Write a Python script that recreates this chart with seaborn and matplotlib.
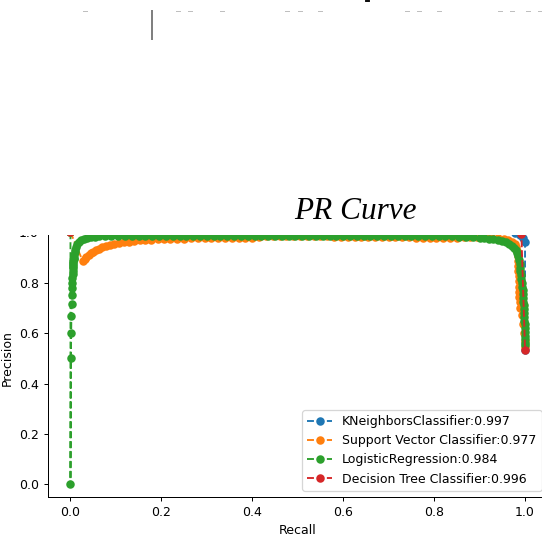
import matplotlib
matplotlib.use("Agg")
import matplotlib.pyplot as plt
from matplotlib.lines import Line2D
from matplotlib.patches import Rectangle
import seaborn as sns

# --------------------------
# Data
# --------------------------
model_names = ["KNeighborsClassifier", "Support Vector Classifier",
               "LogisticRegression", "Decision Tree Classifier"]
ap_scores = [0.997, 0.977, 0.984, 0.996]

knn_recall = [0.0, 0.7, 0.978, 0.988, 0.996, 1.0, 1.0]
knn_precision = [1.0, 1.0, 0.997, 0.988, 0.976, 0.962, 0.535]

svc_recall = [
    0.0, 0.027, 0.031, 0.035, 0.04, 0.045, 0.05, 0.056, 0.063, 0.07,
    0.078, 0.087, 0.096, 0.106, 0.117, 0.128, 0.14, 0.152, 0.165, 0.178,
    0.192, 0.206, 0.22, 0.235, 0.25, 0.265, 0.28, 0.295, 0.31, 0.325,
    0.34, 0.355, 0.37, 0.385, 0.4, 0.415, 0.43, 0.445, 0.46, 0.475,
    0.49, 0.505, 0.52, 0.535, 0.55, 0.565, 0.58, 0.595, 0.61, 0.625,
    0.64, 0.655, 0.67, 0.685, 0.7, 0.715, 0.73, 0.745, 0.76, 0.775,
    0.79, 0.805, 0.82, 0.835, 0.85, 0.865, 0.88, 0.895, 0.91, 0.925,
    0.94, 0.953, 0.963, 0.971, 0.977, 0.981, 0.983, 0.984, 0.985, 0.985,
    0.985, 0.986, 0.986, 0.986, 0.987, 0.987, 0.988, 0.99, 0.993, 0.996,
    0.998, 1.0, 1.0]
svc_precision = [
    1.0, 0.886, 0.895, 0.903, 0.91, 0.917, 0.923, 0.929, 0.935, 0.94,
    0.945, 0.949, 0.953, 0.957, 0.96, 0.963, 0.966, 0.968, 0.97, 0.971,
    0.972, 0.973, 0.974, 0.975, 0.975, 0.976, 0.976, 0.977, 0.977, 0.977,
    0.978, 0.978, 0.978, 0.979, 0.979, 0.98, 0.984, 0.985, 0.985, 0.985,
    0.985, 0.985, 0.985, 0.985, 0.985, 0.984, 0.983, 0.983, 0.983, 0.983,
    0.983, 0.983, 0.983, 0.983, 0.983, 0.982, 0.982, 0.981, 0.979, 0.978,
    0.978, 0.978, 0.978, 0.978, 0.979, 0.98, 0.981, 0.981, 0.981, 0.98,
    0.978, 0.975, 0.97, 0.962, 0.952, 0.94, 0.925, 0.905, 0.885, 0.865,
    0.845, 0.825, 0.805, 0.785, 0.765, 0.745, 0.725, 0.7, 0.67, 0.635,
    0.6, 0.57, 0.545]

lr_recall = [
    0.0, 0.0, 0.001, 0.0015, 0.002, 0.0025, 0.003, 0.0035, 0.004, 0.004,
    0.0045, 0.005, 0.005, 0.0055, 0.006, 0.006, 0.0065, 0.007, 0.0075, 0.008,
    0.009, 0.01, 0.012, 0.015, 0.019, 0.024, 0.03, 0.037, 0.045, 0.053,
    0.062, 0.075, 0.09, 0.105, 0.12, 0.135, 0.15, 0.165, 0.18, 0.195,
    0.21, 0.225, 0.24, 0.255, 0.27, 0.285, 0.3, 0.315, 0.33, 0.345,
    0.36, 0.375, 0.39, 0.405, 0.42, 0.435, 0.45, 0.465, 0.48, 0.495,
    0.51, 0.525, 0.54, 0.555, 0.57, 0.585, 0.6, 0.615, 0.63, 0.645,
    0.66, 0.675, 0.69, 0.705, 0.72, 0.735, 0.75, 0.765, 0.78, 0.795,
    0.81, 0.825, 0.84, 0.855, 0.87, 0.885, 0.9, 0.91, 0.92, 0.93,
    0.94, 0.95, 0.958, 0.965, 0.971, 0.976, 0.98, 0.983, 0.985, 0.987,
    0.988, 0.989, 0.99, 0.991, 0.992, 0.993, 0.994, 0.995, 0.995, 0.996,
    0.996, 0.997, 0.997, 0.998, 0.998, 0.998, 0.999, 0.999, 0.999, 1.0,
    1.0, 1.0, 1.0]
lr_precision = [
    1.0, 0.0, 0.5, 0.6, 0.667, 0.714, 0.75, 0.778, 0.8, 0.818,
    0.833, 0.846, 0.857, 0.867, 0.875, 0.882, 0.889, 0.895, 0.9, 0.91,
    0.92, 0.93, 0.942, 0.952, 0.961, 0.968, 0.974, 0.978, 0.981, 0.983,
    0.984, 0.985, 0.985, 0.986, 0.985, 0.986, 0.986, 0.985, 0.986, 0.986,
    0.987, 0.986, 0.986, 0.987, 0.986, 0.986, 0.987, 0.987, 0.986, 0.987,
    0.987, 0.986, 0.987, 0.987, 0.986, 0.987, 0.986, 0.986, 0.987, 0.986,
    0.986, 0.987, 0.986, 0.986, 0.986, 0.987, 0.986, 0.986, 0.986, 0.985,
    0.986, 0.986, 0.985, 0.986, 0.985, 0.985, 0.986, 0.985, 0.985, 0.985,
    0.984, 0.984, 0.984, 0.983, 0.982, 0.98, 0.978, 0.976, 0.974, 0.972,
    0.969, 0.965, 0.96, 0.954, 0.947, 0.939, 0.929, 0.918, 0.905, 0.89,
    0.875, 0.86, 0.845, 0.83, 0.815, 0.8, 0.785, 0.77, 0.755, 0.74,
    0.725, 0.71, 0.695, 0.68, 0.665, 0.65, 0.635, 0.62, 0.605, 0.59,
    0.575, 0.562, 0.553]

dt_recall = [0.0, 0.992, 1.0]
dt_precision = [1.0, 0.993, 0.535]

all_recall = [knn_recall, svc_recall, lr_recall, dt_recall]
all_precision = [knn_precision, svc_precision, lr_precision, dt_precision]

# --------------------------
# Figure (542x536 px)
# --------------------------
W, H, DPI = 542, 536, 90
fig = plt.figure(figsize=(W / DPI, H / DPI), dpi=DPI)
ax = fig.add_axes([47.75 / W, 39 / H, 500 / W, 277.3 / H])

colors = sns.color_palette("tab10", 4)
for name, ap, rec, prec, col in zip(model_names, ap_scores, all_recall, all_precision, colors):
    sns.lineplot(x=rec, y=prec, ax=ax, color=col, marker="o", linestyle="--",
                 markersize=6.8, markeredgewidth=0, sort=False, estimator=None,
                 label=f"{name}:{ap}")

ax.set_xlim(-0.05, 1.05)
ax.set_ylim(-0.05, 1.05)
ax.set_xlabel("Recall")
ax.set_ylabel("Precision")
ax.legend(loc="lower right")

# --------------------------
# Screenshot crop: top of the plot is hidden, title sits above it
# --------------------------
cut_y = 234.5
fig.add_artist(Rectangle((0, 1 - cut_y / H), 1, cut_y / H, transform=fig.transFigure,
                         facecolor="white", edgecolor="none", zorder=2.5))

fig.text(355 / W, 1 - 219 / H, "PR Curve", ha="center", va="baseline",
         fontsize=25, family="Liberation Serif", style="italic", zorder=4)

# leftovers of the cell above in the screenshot
fig.add_artist(Line2D([151.7 / W, 151.7 / W], [1 - 11 / H, 1 - 39 / H],
                      transform=fig.transFigure, color="0.5", lw=1.6, zorder=4))
for xm in [85, 178, 190, 222, 287, 300, 320, 407, 419, 439, 500, 512, 528, 540]:
    fig.add_artist(Line2D([(xm - 1.8) / W, (xm + 1.8) / W], [1 - 11.3 / H] * 2,
                          transform=fig.transFigure, color="0.75", lw=0.8, zorder=4))
fig.add_artist(Line2D([365.5 / W, 369 / W], [1 - 0.8 / H] * 2,
                      transform=fig.transFigure, color="black", lw=1.5, zorder=4))

fig.savefig("out.png", dpi=DPI)
